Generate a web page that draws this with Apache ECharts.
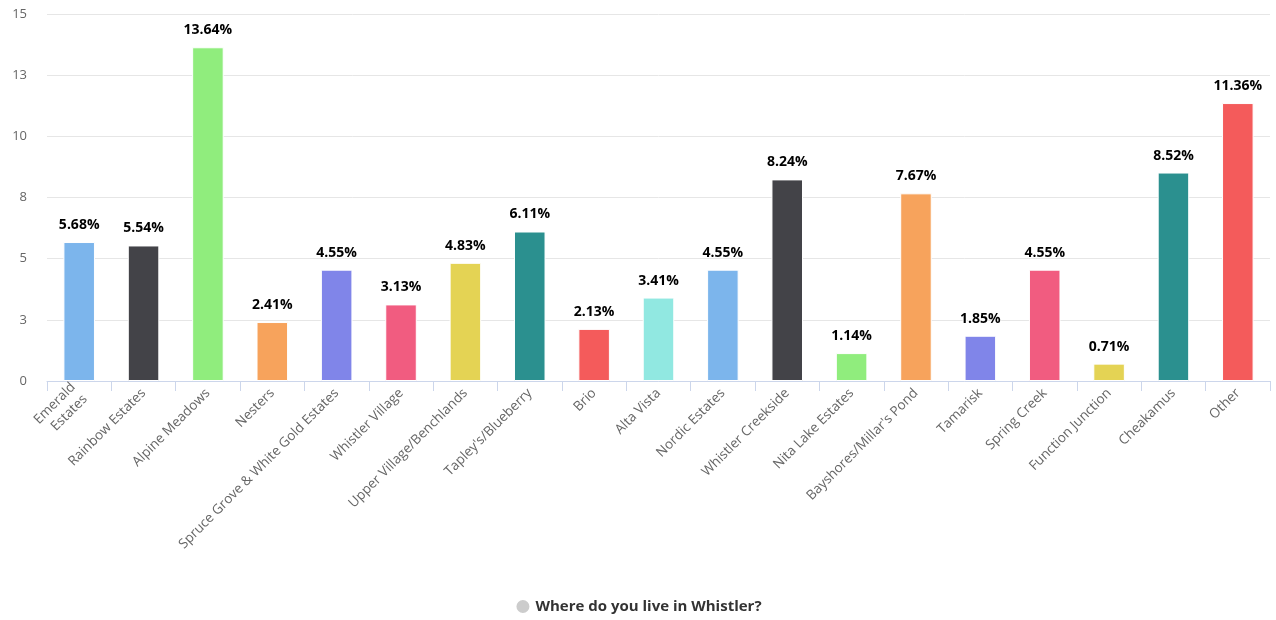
<!DOCTYPE html>
<html>
<head>
<meta charset="utf-8">
<script src="https://cdn.jsdelivr.net/npm/echarts@6/dist/echarts.min.js"></script>
<style>html,body{margin:0;padding:0;background:#fff;}#c{width:1276px;height:620px;}</style>
</head>
<body>
<div id="c"></div>
<script>
const categories = ["Emerald\nEstates","Rainbow Estates","Alpine Meadows","Nesters","Spruce Grove & White Gold Estates","Whistler Village","Upper Village/Benchlands","Tapley's/Blueberry","Brio","Alta Vista","Nordic Estates","Whistler Creekside","Nita Lake Estates","Bayshores/Millar's Pond","Tamarisk","Spring Creek","Function Junction","Cheakamus","Other"];
const values = [5.68,5.54,13.64,2.41,4.55,3.13,4.83,6.11,2.13,3.41,4.55,8.24,1.14,7.67,1.85,4.55,0.71,8.52,11.36];
const palette = ["#7cb5ec","#434348","#90ed7d","#f7a35c","#8085e9","#f15c80","#e4d354","#2b908f","#f45b5b","#91e8e1"];
const seriesName = "Where do you live in Whistler?";
const yTicks = [0,2.5,5,7.5,10,12.5,15];

const FONT = '"Open Sans", sans-serif';
const chart = echarts.init(document.getElementById('c'));
chart.setOption({
  animation:false,
  textStyle:{fontFamily:FONT},
  grid:{left:47,right:6,top:14,bottom:239,containLabel:false},
  legend:{
    bottom:0,left:'center',icon:'circle',itemWidth:15,itemHeight:15,itemGap:8,
    data:[{name:seriesName,itemStyle:{color:'#cccccc'}}],
    textStyle:{fontFamily:FONT,fontSize:15,fontWeight:'bold',color:'#333333'}
  },
  xAxis:{
    type:'category',data:categories,
    axisLine:{lineStyle:{color:'#ccd6eb'}},
    axisTick:{show:true,length:10,alignWithLabel:false,lineStyle:{color:'#ccd6eb'}},
    axisLabel:{interval:0,rotate:45,color:'#666666',fontSize:13.5,fontFamily:FONT,margin:10,lineHeight:17}
  },
  yAxis:{
    type:'value',min:yTicks[0],max:yTicks[yTicks.length-1],interval:2.5,
    axisLine:{show:false},axisTick:{show:false},
    splitLine:{lineStyle:{color:'#e6e6e6'}},
    axisLabel:{color:'#666666',fontSize:13,fontFamily:FONT,margin:20,formatter:v=>String(Math.round(v))}
  },
  series:[{
    name:seriesName,type:'bar',barWidth:'49%',
    data:values.map((v,i)=>({value:v,itemStyle:{color:palette[i%palette.length]}})),
    itemStyle:{borderColor:'#ffffff',borderWidth:1},
    label:{show:true,position:'top',distance:10,formatter:p=>p.value.toFixed(2)+'%',
      fontFamily:FONT,fontSize:14,fontWeight:'bold',color:'#000000',
      textBorderColor:'#ffffff',textBorderWidth:2}
  }]
});
</script>
</body>
</html>
